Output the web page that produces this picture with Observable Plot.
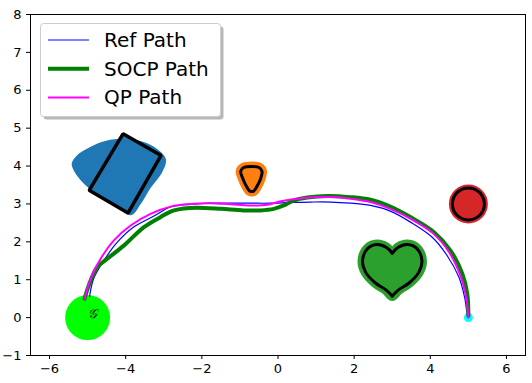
<!DOCTYPE html>
<html><head><meta charset="utf-8">
<script src="https://cdn.jsdelivr.net/npm/d3@7"></script>
<script src="https://cdn.jsdelivr.net/npm/@observablehq/plot@0.6"></script>
<style>
body{margin:0;background:#fff;}
#wrap{position:relative;width:532px;height:383px;font-family:"DejaVu Sans",sans-serif;}
#legend{position:absolute;left:0;top:0;pointer-events:none;}
</style>
</head><body>
<div id="wrap"></div>
<script>
// ---- data ----
const xTicks = [-6, -4, -2, 0, 2, 4, 6];
const yTicks = [-1, 0, 1, 2, 3, 4, 5, 6, 7, 8];
const seriesNames = ["Ref Path", "SOCP Path", "QP Path"];

const refX = [-4.95,-4.84,-4.57,-4.22,-3.79,-3.26,-2.82,-2.30,-1.77,-1.25,-0.72,-0.20,0.33,0.85,1.38,1.90,2.43,2.95,3.48,4.05,4.44,4.75,4.90,4.97,5.0];
const refY = [0.55,1.03,1.51,1.99,2.39,2.68,2.92,2.99,3.02,3.02,3.02,3.02,3.04,3.05,3.05,3.02,2.96,2.81,2.52,2.12,1.64,1.07,0.54,0.10,0.0];

const socpX = [-5.08,-4.97,-4.75,-4.49,-4.05,-3.52,-3.09,-2.82,-2.47,-2.12,-1.50,-0.90,-0.46,-0.11,0.15,0.41,0.77,1.30,1.90,2.43,2.95,3.50,4.09,4.53,4.84,4.97,5.0];
const socpY = [0.50,0.85,1.33,1.55,1.90,2.39,2.65,2.80,2.88,2.90,2.87,2.83,2.83,2.87,2.96,3.09,3.17,3.21,3.18,3.11,2.93,2.64,2.26,1.77,1.16,0.63,0.05];

const qpX = [-5.08,-4.92,-4.66,-4.31,-3.87,-3.35,-2.82,-2.30,-1.77,-1.25,-0.72,-0.28,0.07,0.68,1.38,1.90,2.43,2.95,3.50,4.09,4.49,4.79,4.94,5.0];
const qpY = [0.50,1.03,1.55,2.04,2.43,2.74,2.93,3.00,3.02,2.99,2.96,2.98,3.07,3.16,3.18,3.14,3.05,2.87,2.60,2.21,1.73,1.11,0.54,0.0];

const blobX = [-5.38,-5.20,-4.95,-4.62,-4.18,-3.73,-3.29,-2.98,-3.08,-3.38,-3.65,-3.87,-4.30,-4.93,-5.16,-5.33];
const blobY = [4.06,4.30,4.45,4.60,4.68,4.65,4.48,4.17,3.85,3.44,3.00,2.74,3.05,3.44,3.66,3.90];

const rectX = [-4.07,-3.07,-3.94,-4.96];
const rectY = [4.85,4.28,2.76,3.36];

const orangeX = [-0.70,-0.50,-0.42,-0.46,-0.56,-0.64,-0.74,-0.82,-0.92,-0.98,-0.90];
const orangeY = [3.99,3.96,3.86,3.66,3.45,3.34,3.34,3.45,3.66,3.86,3.96];

const heartX = [3.0,3.15,3.40,3.65,3.78,3.70,3.45,3.15,3.0,2.85,2.55,2.30,2.22,2.35,2.60,2.85,3.0];
const heartY = [1.70,1.85,1.93,1.82,1.50,1.20,0.92,0.72,0.57,0.72,0.92,1.20,1.50,1.82,1.93,1.85,1.70];

const redCenter = [5.0, 3.0];
const goalCenter = [-5.0, 0.0];
const goalLabel = "𝒢";
const goalLabelPos = [-4.86, 0.10];
const startPoint = [5.0, 0.0];

// ---- build tables ----
const pts = (xs, ys) => xs.map((x, i) => ({x, y: ys[i]}));
const ref = pts(refX, refY), socp = pts(socpX, socpY), qp = pts(qpX, qpY);
const blob = pts(blobX, blobY), rect = pts(rectX, rectY), orange = pts(orangeX, orangeY);
const heartAll = pts(heartX, heartY);
const heartHalves = [
  ...heartAll.slice(0, 9).map(d => ({...d, side: "R"})),
  ...heartAll.slice(8).map(d => ({...d, side: "L"}))
];
const heartFill = heartAll.slice(0, heartAll.length - 1);

const C = {blue: "#1f77b4", orange: "#ff7f0e", green: "#2ca02c", red: "#d62728"};

const plot = Plot.plot({
  width: 532, height: 383,
  marginLeft: 30, marginRight: 7, marginTop: 14, marginBottom: 28,
  x: {domain: [-6.5, 6.5]},
  y: {domain: [-1, 8]},
  style: {fontFamily: "DejaVu Sans", fontSize: "13px", color: "black", background: "white"},
  marks: [
    Plot.line(blob, {x: "x", y: "y", curve: "catmull-rom-closed", fill: C.blue, stroke: C.blue, strokeWidth: 3, strokeLinejoin: "round"}),
    Plot.line(rect, {x: "x", y: "y", curve: "linear-closed", fill: C.blue, stroke: "black", strokeWidth: 3.5, strokeLinejoin: "miter"}),
    Plot.line(orange, {x: "x", y: "y", curve: "catmull-rom-closed", fill: C.orange, stroke: C.orange, strokeWidth: 10, strokeLinejoin: "round"}),
    Plot.line(orange, {x: "x", y: "y", curve: "catmull-rom-closed", fill: "none", stroke: "black", strokeWidth: 3}),
    Plot.dot([redCenter], {x: d => d[0], y: d => d[1], r: 16, fill: C.red, stroke: C.red, strokeWidth: 7}),
    Plot.dot([redCenter], {x: d => d[0], y: d => d[1], r: 16, fill: "none", stroke: "black", strokeWidth: 3}),
    Plot.line(heartFill, {x: "x", y: "y", curve: "catmull-rom-closed", fill: C.green, stroke: C.green, strokeWidth: 10, strokeLinejoin: "round"}),
    Plot.line(heartHalves, {x: "x", y: "y", z: "side", curve: "catmull-rom", fill: "none", stroke: "black", strokeWidth: 3}),
    Plot.dot([goalCenter], {x: d => d[0], y: d => d[1], r: 22.5, fill: "#00ff00", stroke: "none"}),
    Plot.dot([startPoint], {x: d => d[0], y: d => d[1], r: 4.5, fill: "#00ffff", stroke: "none"}),
    Plot.line(ref, {x: "x", y: "y", curve: "catmull-rom", stroke: "#0000ff", strokeWidth: 1.2}),
    Plot.line(socp, {x: "x", y: "y", curve: "catmull-rom", stroke: "#008000", strokeWidth: 4}),
    Plot.line(qp, {x: "x", y: "y", curve: "catmull-rom", stroke: "#ff00ff", strokeWidth: 2}),
    Plot.text([goalLabelPos], {x: d => d[0], y: d => d[1], text: () => goalLabel, fontSize: 13, fontStyle: "italic", fill: "black"}),
    Plot.frame({stroke: "black", strokeWidth: 1}),
    Plot.axisX({ticks: xTicks, tickSize: 4, tickPadding: 4, label: null, fill: "black", fontSize: 13}),
    Plot.axisY({ticks: yTicks, tickSize: 4, tickPadding: 5, label: null, fill: "black", fontSize: 13})
  ]
});

const wrap = document.getElementById("wrap");
wrap.appendChild(plot);

// ---- legend ----
const legendColors = ["#0000ff", "#008000", "#ff00ff"];
const legendWidths = [1.2, 4, 2];
const lg = d3.select(wrap).append("svg").attr("id", "legend").attr("width", 532).attr("height", 383);
lg.append("rect").attr("x", 43.5).attr("y", 26.5).attr("width", 180).attr("height", 93).attr("rx", 3).attr("fill", "#888").attr("opacity", 0.6);
lg.append("rect").attr("x", 40.5).attr("y", 23.5).attr("width", 180).attr("height", 93).attr("rx", 3).attr("fill", "white").attr("stroke", "#cccccc").attr("stroke-width", 1);
seriesNames.forEach((name, i) => {
  const cy = 40 + i * 28.7;
  lg.append("line").attr("x1", 48).attr("x2", 89).attr("y1", cy).attr("y2", cy)
    .attr("stroke", legendColors[i]).attr("stroke-width", legendWidths[i]);
  lg.append("text").attr("x", 104).attr("y", cy + 6.8).attr("font-family", "DejaVu Sans")
    .attr("font-size", "20px").attr("fill", "black").text(name);
});
</script>
</body></html>
